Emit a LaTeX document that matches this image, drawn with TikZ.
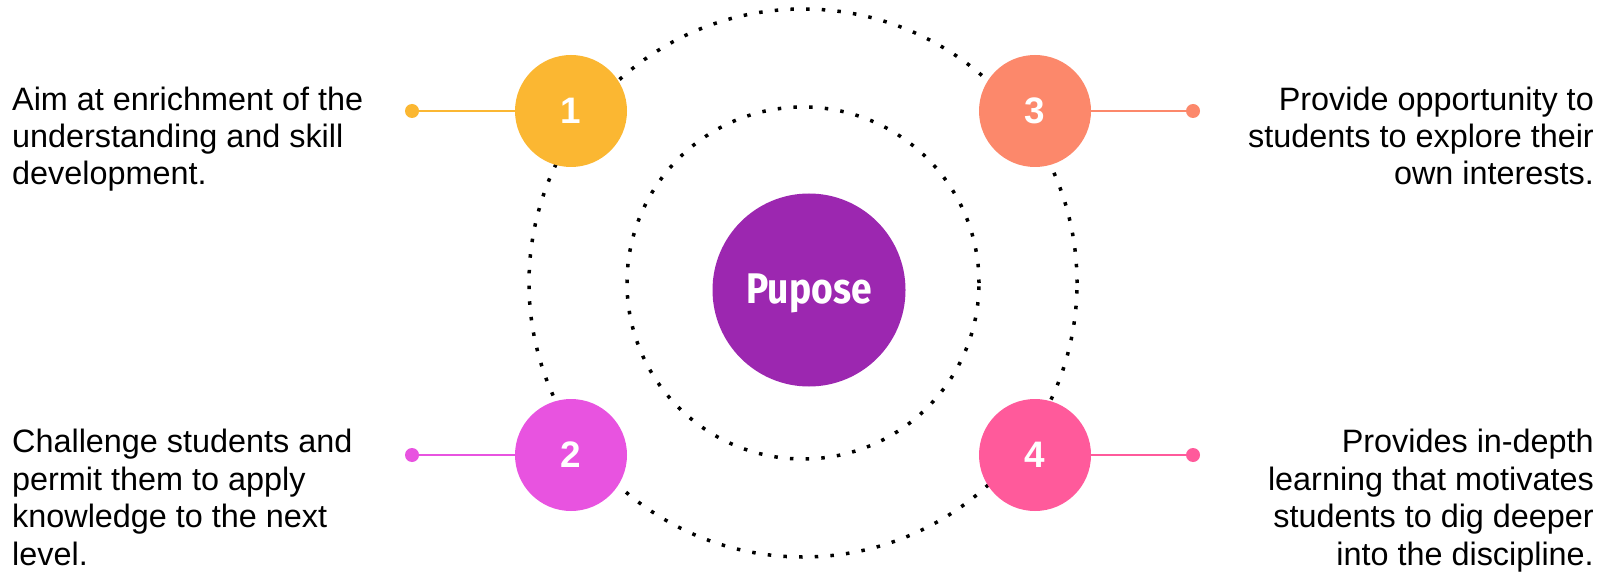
\documentclass[tikz,border=0pt]{standalone}
\usepackage{fontspec}
\setmainfont{Liberation Sans}
\newfontfamily\firafont{Fira Sans}
\definecolor{cyellow}{HTML}{FBB732}
\definecolor{csalmon}{HTML}{FC886B}
\definecolor{cmagenta}{HTML}{E853E0}
\definecolor{cpink}{HTML}{FF5A9B}
\definecolor{cpurple}{HTML}{9C27B0}
\tikzset{
  dotring/.style={circle, draw=black, line width=3.5bp, dash pattern=on 3.5bp off 12.2bp, inner sep=0pt},
  numc/.style={circle, fill=#1, minimum size=112bp, inner sep=0pt, text=white, font=\fontsize{37}{37}\selectfont\bfseries},
  enddot/.style={circle, fill=#1, minimum size=14bp, inner sep=0pt},
  link/.style={draw=#1, line width=1.7bp},
  txt/.style={inner sep=0pt, font=\fontsize{32.5}{37.5}\selectfont, text=black}
}
\begin{document}
\begin{tikzpicture}[x=1bp,y=-1bp]
\useasboundingbox[fill=white] (0,0) rectangle (1609,574);
% dotted rings
\node[dotring, minimum size=548bp] (outer) at (803,283) {};
\node[dotring, minimum size=352bp] (inner) at (803,283) {};
% centre
\node[circle, fill=cpurple, minimum size=193bp, inner sep=0pt] (centre) at (809,290) {};
\node[anchor=base, inner sep=0pt, text=white, font=\firafont\fontsize{43}{43}\selectfont\bfseries] (ctext) at (809,303) {\scalebox{0.87}[1]{Pupose}};
% end dots
\node[enddot=cyellow] (d1) at (412,111) {};
\node[enddot=cmagenta] (d2) at (412,455) {};
\node[enddot=csalmon] (d3) at (1193,111) {};
\node[enddot=cpink] (d4) at (1193,455) {};
% numbered circles
\node[numc=cyellow] (c1) at (571,111) {1};
\node[numc=cmagenta] (c2) at (571,455) {2};
\node[numc=csalmon] (c3) at (1035,111) {3};
\node[numc=cpink] (c4) at (1035,455) {4};
% connectors
\draw[link=cyellow] (c1.west) -- (d1);
\draw[link=cmagenta] (c2.west) -- (d2);
\draw[link=csalmon] (c3.east) -- (d3);
\draw[link=cpink] (c4.east) -- (d4);
% texts (base anchor = baseline of last line)
\node[txt, anchor=base west, align=left] (t1) at (12,185) {Aim at enrichment of the\\understanding and skill\\development.};
\node[txt, anchor=base west, align=left] (t2) at (12,565) {Challenge students and\\permit them to apply\\knowledge to the next\\level.};
\node[txt, anchor=base east, align=right] (t3) at (1594,185) {Provide opportunity to\\students to explore their\\own interests.};
\node[txt, anchor=base east, align=right] (t4) at (1594,565) {Provides in-depth\\learning that motivates\\students to dig deeper\\into the discipline.};
\end{tikzpicture}
\end{document}
